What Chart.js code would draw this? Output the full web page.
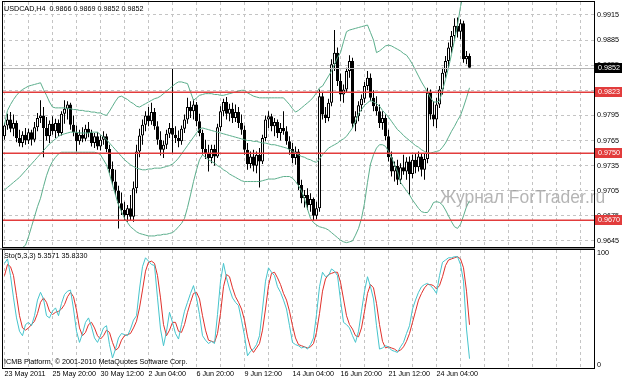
<!DOCTYPE html>
<html>
<head>
<meta charset="utf-8">
<script src="https://cdn.jsdelivr.net/npm/chart.js@4.4.0/dist/chart.umd.min.js"></script>
<style>
body { margin: 0; background: #fff; }
#wrap { position: relative; width: 623px; height: 382px; overflow: hidden; font-family: "Liberation Sans", Arial, sans-serif; }
canvas { position: absolute; left: 0; }
.t { position: absolute; font-size: 7.2px; line-height: 1; color: #000; white-space: pre; }
</style>
</head>
<body>
<div id="wrap">
  <canvas id="main" width="623" height="248" style="top:0"></canvas>
  <canvas id="sub" width="623" height="134" style="top:248px"></canvas>
  <div class="t" id="head" style="left:4px;top:5px"></div>
  <div class="t" id="stoHead" style="left:4px;top:252px"></div>
  <div class="t" style="left:4px;top:358px">ICMB Platform, © 2001-2010 MetaQuotes Software Corp.</div>
</div>
<script>
// USDCAD H4, one value per bar (bar 0 = 23 May 2011)
const opens = [
  0.9770,0.9783,0.9790,0.9779,0.9786,0.9768,0.9762,0.9772,0.9765,0.9775,
  0.9766,0.9781,0.9792,0.9795,0.9780,0.9770,0.9785,0.9776,0.9786,0.9774,
  0.9797,0.9803,0.9808,0.9784,0.9775,0.9764,0.9772,0.9767,0.9779,0.9774,
  0.9762,0.9770,0.9758,0.9766,0.9770,0.9755,0.9731,0.9716,0.9705,0.9690,
  0.9682,0.9676,0.9684,0.9674,0.9708,0.9752,0.9771,0.9784,0.9795,0.9788,
  0.9799,0.9782,0.9766,0.9754,0.9760,0.9773,0.9780,0.9772,0.9768,0.9764,
  0.9779,0.9790,0.9805,0.9800,0.9808,0.9788,0.9774,0.9755,0.9750,0.9744,
  0.9755,0.9746,0.9781,0.9800,0.9811,0.9797,0.9803,0.9792,0.9799,0.9786,
  0.9778,0.9754,0.9737,0.9746,0.9735,0.9748,0.9740,0.9768,0.9790,0.9794,
  0.9782,0.9787,0.9774,0.9780,0.9776,0.9764,0.9755,0.9744,0.9752,0.9712,
  0.9696,0.9700,0.9688,0.9695,0.9675,0.9684,0.9818,0.9796,0.9792,0.9810,
  0.9856,0.9870,0.9836,0.9820,0.9826,0.9848,0.9860,0.9785,0.9794,0.9807,
  0.9815,0.9830,0.9840,0.9816,0.9806,0.9800,0.9786,0.9792,0.9770,0.9745,
  0.9728,0.9735,0.9718,0.9733,0.9728,0.9740,0.9725,0.9742,0.9733,0.9746,
  0.9730,0.9743,0.9822,0.9796,0.9790,0.9808,0.9826,0.9846,0.9860,0.9876,
  0.9890,0.9902,0.9895,0.9905,0.9862,0.9866
];
const highs = [
  0.9786,0.9797,0.9799,0.9796,0.9789,0.9778,0.9776,0.9780,0.9779,0.9778,
  0.9787,0.9798,0.9813,0.9805,0.9793,0.9789,0.9794,0.9791,0.9790,0.9800,
  0.9813,0.9812,0.9810,0.9795,0.9783,0.9778,0.9781,0.9784,0.9787,0.9778,
  0.9774,0.9775,0.9771,0.9776,0.9773,0.9760,0.9740,0.9730,0.9711,0.9703,
  0.9692,0.9688,0.9700,0.9716,0.9760,0.9779,0.9790,0.9800,0.9805,0.9810,
  0.9804,0.9788,0.9776,0.9765,0.9778,0.9786,0.9851,0.9782,0.9777,0.9783,
  0.9796,0.9816,0.9812,0.9814,0.9811,0.9797,0.9778,0.9766,0.9760,0.9760,
  0.9760,0.9785,0.9806,0.9815,0.9817,0.9809,0.9810,0.9808,0.9805,0.9796,
  0.9783,0.9762,0.9752,0.9754,0.9752,0.9756,0.9772,0.9795,0.9800,0.9797,
  0.9792,0.9790,0.9786,0.9800,0.9782,0.9770,0.9762,0.9758,0.9755,0.9718,
  0.9706,0.9708,0.9702,0.9697,0.9692,0.9826,0.9822,0.9805,0.9815,0.9862,
  0.9897,0.9876,0.9845,0.9832,0.9852,0.9867,0.9864,0.9800,0.9812,0.9820,
  0.9835,0.9848,0.9845,0.9825,0.9818,0.9808,0.9800,0.9796,0.9778,0.9752,
  0.9740,0.9742,0.9738,0.9748,0.9745,0.9746,0.9748,0.9750,0.9752,0.9750,
  0.9750,0.9828,0.9826,0.9812,0.9816,0.9830,0.9852,0.9866,0.9882,0.9896,
  0.9911,0.9912,0.9910,0.9908,0.9872,0.9869
];
const lows = [
  0.9766,0.9778,0.9775,0.9770,0.9763,0.9758,0.9757,0.9760,0.9761,0.9759,
  0.9763,0.9776,0.9786,0.9745,0.9765,0.9762,0.9772,0.9768,0.9770,0.9771,
  0.9785,0.9790,0.9778,0.9770,0.9752,0.9760,0.9763,0.9764,0.9769,0.9758,
  0.9756,0.9754,0.9753,0.9760,0.9751,0.9726,0.9712,0.9700,0.9660,0.9676,
  0.9670,0.9668,0.9669,0.9668,0.9702,0.9745,0.9760,0.9776,0.9782,0.9784,
  0.9778,0.9760,0.9747,0.9744,0.9755,0.9768,0.9750,0.9762,0.9757,0.9760,
  0.9774,0.9785,0.9792,0.9790,0.9782,0.9770,0.9748,0.9743,0.9728,0.9738,
  0.9735,0.9744,0.9776,0.9794,0.9790,0.9788,0.9786,0.9787,0.9780,0.9772,
  0.9748,0.9730,0.9732,0.9728,0.9726,0.9709,0.9737,0.9764,0.9780,0.9776,
  0.9770,0.9768,0.9765,0.9772,0.9760,0.9748,0.9738,0.9736,0.9706,0.9690,
  0.9685,0.9682,0.9680,0.9670,0.9671,0.9680,0.9790,0.9786,0.9788,0.9806,
  0.9848,0.9830,0.9812,0.9810,0.9822,0.9840,0.9780,0.9776,0.9788,0.9800,
  0.9810,0.9825,0.9812,0.9800,0.9795,0.9780,0.9778,0.9765,0.9740,0.9722,
  0.9716,0.9712,0.9713,0.9724,0.9718,0.9700,0.9720,0.9726,0.9728,0.9722,
  0.9718,0.9738,0.9790,0.9782,0.9780,0.9804,0.9820,0.9840,0.9852,0.9870,
  0.9884,0.9888,0.9886,0.9858,0.9856,0.9852
];
const closes = [
  0.9783,0.9790,0.9779,0.9786,0.9768,0.9762,0.9772,0.9765,0.9775,0.9766,
  0.9781,0.9792,0.9795,0.9780,0.9770,0.9785,0.9776,0.9786,0.9774,0.9797,
  0.9803,0.9808,0.9784,0.9775,0.9764,0.9772,0.9767,0.9779,0.9774,0.9762,
  0.9770,0.9758,0.9766,0.9770,0.9755,0.9731,0.9716,0.9705,0.9690,0.9682,
  0.9676,0.9684,0.9674,0.9708,0.9752,0.9771,0.9784,0.9795,0.9788,0.9799,
  0.9782,0.9766,0.9754,0.9760,0.9773,0.9780,0.9772,0.9768,0.9764,0.9779,
  0.9790,0.9805,0.9800,0.9808,0.9788,0.9774,0.9755,0.9750,0.9744,0.9755,
  0.9746,0.9781,0.9800,0.9811,0.9797,0.9803,0.9792,0.9799,0.9786,0.9778,
  0.9754,0.9737,0.9746,0.9735,0.9748,0.9740,0.9768,0.9790,0.9794,0.9782,
  0.9787,0.9774,0.9780,0.9776,0.9764,0.9755,0.9744,0.9752,0.9712,0.9696,
  0.9700,0.9688,0.9695,0.9675,0.9684,0.9818,0.9796,0.9792,0.9810,0.9856,
  0.9870,0.9836,0.9820,0.9826,0.9848,0.9860,0.9785,0.9794,0.9807,0.9815,
  0.9830,0.9840,0.9816,0.9806,0.9800,0.9786,0.9792,0.9770,0.9745,0.9728,
  0.9735,0.9718,0.9733,0.9728,0.9740,0.9725,0.9742,0.9733,0.9746,0.9730,
  0.9743,0.9822,0.9796,0.9790,0.9808,0.9826,0.9846,0.9860,0.9876,0.9890,
  0.9902,0.9895,0.9905,0.9862,0.9866,0.9852
];

// Bollinger bands
const bbUpper = [
  0.9784,0.9801,0.9808,0.9814,0.9819,0.9823,0.9826,0.9828,0.9830,0.9831,
  0.9832,0.9833,0.9834,0.9826,0.9819,0.9811,0.9805,0.9804,0.9804,0.9804,
  0.9804,0.9803,0.9803,0.9802,0.9802,0.9801,0.9801,0.9800,0.9800,0.9799,
  0.9799,0.9798,0.9798,0.9796,0.9795,0.9800,0.9806,0.9812,0.9817,0.9818,
  0.9816,0.9814,0.9811,0.9809,0.9806,0.9805,0.9807,0.9809,0.9811,0.9813,
  0.9815,0.9816,0.9818,0.9821,0.9824,0.9827,0.9830,0.9833,0.9835,0.9835,
  0.9834,0.9833,0.9823,0.9813,0.9816,0.9819,0.9820,0.9821,0.9821,0.9821,
  0.9820,0.9820,0.9819,0.9819,0.9820,0.9821,0.9822,0.9823,0.9824,0.9825,
  0.9825,0.9822,0.9820,0.9818,0.9817,0.9816,0.9816,0.9816,0.9816,0.9816,
  0.9816,0.9816,0.9816,0.9816,0.9812,0.9808,0.9803,0.9799,0.9801,0.9804,
  0.9807,0.9810,0.9813,0.9817,0.9822,0.9828,0.9830,0.9836,0.9842,0.9848,
  0.9856,0.9864,0.9870,0.9883,0.9895,0.9897,0.9898,0.9899,0.9900,0.9901,
  0.9902,0.9903,0.9894,0.9885,0.9870,0.9872,0.9875,0.9878,0.9879,0.9878,
  0.9876,0.9874,0.9872,0.9869,0.9867,0.9862,0.9856,0.9849,0.9842,0.9835,
  0.9829,0.9823,0.9816,0.9811,0.9811,0.9812,0.9825,0.9838,0.9852,0.9868,
  0.9885,0.9903,0.9925,0.9940,0.9952,0.9963
];
const bbMiddle = [
  0.9706,0.9709,0.9712,0.9715,0.9718,0.9721,0.9725,0.9729,0.9733,0.9737,
  0.9741,0.9745,0.9749,0.9753,0.9757,0.9761,0.9764,0.9767,0.9770,0.9772,
  0.9773,0.9774,0.9775,0.9775,0.9775,0.9774,0.9774,0.9774,0.9774,0.9775,
  0.9775,0.9775,0.9772,0.9769,0.9766,0.9762,0.9758,0.9754,0.9750,0.9746,
  0.9742,0.9739,0.9736,0.9734,0.9732,0.9731,0.9730,0.9730,0.9731,0.9731,
  0.9732,0.9732,0.9732,0.9733,0.9734,0.9735,0.9737,0.9740,0.9744,0.9749,
  0.9754,0.9759,0.9764,0.9769,0.9774,0.9779,0.9780,0.9779,0.9778,0.9777,
  0.9776,0.9775,0.9774,0.9773,0.9772,0.9771,0.9770,0.9769,0.9768,0.9767,
  0.9766,0.9765,0.9765,0.9764,0.9764,0.9763,0.9762,0.9762,0.9761,0.9760,
  0.9760,0.9759,0.9758,0.9757,0.9756,0.9754,0.9752,0.9750,0.9748,0.9746,
  0.9745,0.9743,0.9742,0.9740,0.9739,0.9743,0.9748,0.9752,0.9756,0.9758,
  0.9760,0.9762,0.9765,0.9767,0.9770,0.9775,0.9780,0.9788,0.9797,0.9802,
  0.9807,0.9810,0.9813,0.9811,0.9809,0.9806,0.9801,0.9797,0.9793,0.9788,
  0.9783,0.9778,0.9775,0.9771,0.9768,0.9765,0.9762,0.9759,0.9757,0.9754,
  0.9752,0.9750,0.9750,0.9751,0.9752,0.9753,0.9757,0.9762,0.9769,0.9776,
  0.9782,0.9789,0.9795,0.9805,0.9816,0.9828
];
const bbLower = [
  0.9620,0.9622,0.9625,0.9628,0.9632,0.9635,0.9637,0.9640,0.9650,0.9662,
  0.9674,0.9686,0.9696,0.9710,0.9723,0.9733,0.9740,0.9745,0.9749,0.9751,
  0.9751,0.9751,0.9751,0.9751,0.9751,0.9751,0.9751,0.9751,0.9751,0.9751,
  0.9751,0.9750,0.9748,0.9742,0.9736,0.9725,0.9712,0.9700,0.9688,0.9680,
  0.9672,0.9667,0.9662,0.9659,0.9656,0.9654,0.9653,0.9652,0.9651,0.9651,
  0.9651,0.9652,0.9652,0.9653,0.9653,0.9654,0.9655,0.9658,0.9662,0.9666,
  0.9672,0.9685,0.9700,0.9716,0.9730,0.9742,0.9748,0.9745,0.9742,0.9740,
  0.9738,0.9735,0.9733,0.9730,0.9728,0.9725,0.9723,0.9721,0.9719,0.9717,
  0.9716,0.9716,0.9716,0.9716,0.9716,0.9716,0.9717,0.9718,0.9719,0.9719,
  0.9719,0.9720,0.9721,0.9722,0.9722,0.9722,0.9720,0.9716,0.9711,0.9705,
  0.9695,0.9683,0.9672,0.9667,0.9664,0.9662,0.9661,0.9660,0.9658,0.9655,
  0.9652,0.9649,0.9646,0.9644,0.9643,0.9644,0.9645,0.9652,0.9660,0.9672,
  0.9690,0.9715,0.9737,0.9748,0.9756,0.9760,0.9760,0.9758,0.9752,0.9745,
  0.9736,0.9728,0.9715,0.9710,0.9705,0.9700,0.9694,0.9689,0.9684,0.9680,
  0.9679,0.9679,0.9684,0.9691,0.9692,0.9691,0.9688,0.9682,0.9675,0.9668,
  0.9662,0.9660,0.9665,0.9675,0.9686,0.9693
];

// Stochastic (5,3,3): main and signal
const stochK = [
  91,95,80,60,42,30,26,36,38,35,
  44,58,65,59,44,42,48,51,44,55,
  63,66,67,50,30,20,28,38,42,34,
  24,20,26,33,35,18,6,14,24,28,
  27,26,32,40,44,68,88,96,93,90,
  89,60,32,17,30,47,38,28,23,36,
  48,56,64,71,60,45,26,22,19,21,
  19,45,75,91,78,68,60,56,53,40,
  26,8,12,14,18,26,50,75,87,83,
  80,70,65,58,50,35,20,18,17,15,
  16,14,18,24,45,70,83,79,80,86,
  84,80,58,38,36,33,26,20,30,48,
  66,79,70,59,35,14,15,17,16,13,
  12,11,16,20,28,35,50,58,65,70,
  72,73,71,68,64,80,92,94,96,96,
  97,97,90,75,32,5.3571
];
const stochD = [
  80,90,88,80,62,44,33,31,33,36,
  39,46,56,60,56,48,45,47,48,50,
  54,61,65,61,49,33,26,29,36,38,
  33,26,23,26,31,29,20,13,15,22,
  26,27,28,33,39,51,67,84,92,93,
  91,80,60,36,26,31,38,38,30,29,
  36,47,56,64,65,59,44,31,22,21,
  20,28,46,70,81,79,69,61,56,50,
  40,25,15,11,15,19,31,50,71,82,
  83,78,72,64,58,48,35,24,18,17,
  16,15,16,19,29,46,66,77,81,82,
  83,83,74,59,44,36,32,26,25,33,
  48,64,72,69,55,36,21,15,16,15,
  14,12,13,16,21,28,38,48,58,64,
  69,72,72,71,68,71,79,89,94,95,
  96,97,95,87,66,35.8330
];

const slotCount = 197;                      // bar slots across the window
const tickLabels = ['23 May 2011', '25 May 20:00', '30 May 12:00', '2 Jun 04:00', '6 Jun 20:00',
  '9 Jun 12:00', '14 Jun 04:00', '16 Jun 20:00', '21 Jun 12:00', '24 Jun 04:00'];
const priceTicks = [0.9645, 0.9675, 0.9705, 0.9735, 0.9765, 0.9795, 0.9825, 0.9855, 0.9885, 0.9915];
const stochTicks = [0, 100];
const levels = [0.9823, 0.9750, 0.9670];    // red horizontal lines
const priceMin = 0.96378, priceMax = 0.99305;

const FONT = '"Liberation Sans", Arial, sans-serif';
const gridColor = '#c4c4c4';
const bandColor = '#5cae8c';
const levelColor = '#e23c3c';

const slots = Array.from({ length: slotCount }, (_, i) => i);
const last = closes.length - 1;

document.getElementById('head').textContent =
  'USDCAD,H4  ' + [opens[last], highs[last], lows[last], closes[last]].map(v => v.toFixed(4)).join(' ');
document.getElementById('stoHead').textContent =
  'Sto(5,3,3) ' + stochK[last].toFixed(4) + ' ' + stochD[last].toFixed(4);

const xGrid = {
  offset: true,
  ticks: { display: false },
  grid: { color: gridColor, offset: false, drawTicks: false },
  border: { display: false, dash: [3, 3] },
  afterBuildTicks: s => { s.ticks = s.ticks.filter(t => t.value % 8 === 0); }
};

const mainDecor = {
  id: 'mainDecor',
  afterDatasetsDraw(chart) {
    const { ctx, chartArea: a, scales: { y } } = chart;
    ctx.save();
    // bid line
    let py = Math.round(y.getPixelForValue(closes[last])) + 0.5;
    ctx.strokeStyle = '#b4b4b4';
    ctx.lineWidth = 1;
    ctx.beginPath(); ctx.moveTo(a.left, py); ctx.lineTo(a.right, py); ctx.stroke();
    ctx.strokeStyle = levelColor;
    ctx.lineWidth = 1.5;
    levels.forEach(v => {
      py = Math.round(y.getPixelForValue(v)) + 0.25;
      ctx.beginPath(); ctx.moveTo(a.left, py); ctx.lineTo(a.right, py); ctx.stroke();
    });
    ctx.restore();
  },
  afterDraw(chart) {
    const { ctx, chartArea: a, scales: { y } } = chart;
    ctx.save();
    ctx.font = '17.5px ' + FONT;
    ctx.fillStyle = 'rgba(150,150,150,0.7)';
    ctx.fillText('Журнал ForTrader.ru', 440, 203);

    ctx.strokeStyle = '#000';
    ctx.lineWidth = 1;
    ctx.strokeRect(a.left - 0.5, a.top - 0.5, a.right - a.left + 1, a.bottom - a.top + 1);

    const boxes = [{ v: closes[last], bg: '#000' }].concat(levels.map(v => ({ v, bg: levelColor })));
    ctx.font = '7.2px ' + FONT;
    ctx.textBaseline = 'middle';
    boxes.forEach(b => {
      const py = Math.round(y.getPixelForValue(b.v));
      ctx.fillStyle = b.bg;
      ctx.fillRect(a.right + 1, py - 5, 27, 10);
      ctx.fillStyle = '#fff';
      ctx.fillText(b.v.toFixed(4), a.right + 4, py + 0.5);
    });
    ctx.restore();
  }
};

new Chart(document.getElementById('main'), {
  type: 'bar',
  data: {
    labels: slots,
    datasets: [
      { type: 'line', data: bbUpper, borderColor: bandColor, borderWidth: 1, pointRadius: 0, order: 0 },
      { type: 'line', data: bbMiddle, borderColor: bandColor, borderWidth: 1, pointRadius: 0, order: 0 },
      { type: 'line', data: bbLower, borderColor: bandColor, borderWidth: 1, pointRadius: 0, order: 0 },
      {
        data: highs.map((h, i) => [lows[i], h]),
        backgroundColor: '#000', barThickness: 1, grouped: false, inflateAmount: 0, order: 2
      },
      {
        data: opens.map((o, i) => [o, closes[i]]),
        backgroundColor: opens.map((o, i) => closes[i] >= o ? '#fff' : '#000'),
        borderColor: '#000', borderWidth: 1, borderSkipped: false,
        barThickness: 3, grouped: false, inflateAmount: 0, order: 1
      }
    ]
  },
  options: {
    responsive: false,
    animation: false,
    events: [],
    layout: { padding: { left: 3, top: 2, right: 0, bottom: 1 } },
    plugins: { legend: { display: false }, tooltip: { enabled: false } },
    scales: {
      x: Object.assign({}, xGrid, {
        afterFit: s => { s.height = 0; s.paddingLeft = 0; s.paddingRight = 0; }
      }),
      y: {
        position: 'right',
        min: priceMin,
        max: priceMax,
        afterBuildTicks: s => { s.ticks = priceTicks.map(v => ({ value: v })); },
        ticks: { callback: v => v.toFixed(4), color: '#000', font: { family: FONT, size: 7.2 }, padding: 3 },
        grid: { color: gridColor, drawTicks: false },
        border: { display: false, dash: [3, 3] },
        afterFit: s => { s.width = 29; s.paddingTop = 0; s.paddingBottom = 0; }
      }
    }
  },
  plugins: [mainDecor]
});

const subDecor = {
  id: 'subDecor',
  afterDraw(chart) {
    const { ctx, chartArea: a } = chart;
    ctx.save();
    ctx.fillStyle = '#8a8a8a';
    ctx.fillRect(0, 0, a.right + 1, 2);
    ctx.strokeStyle = '#000';
    ctx.lineWidth = 1;
    ctx.strokeRect(a.left - 0.5, a.top - 0.5, a.right - a.left + 1, a.bottom - a.top + 1);
    ctx.restore();
  }
};

new Chart(document.getElementById('sub'), {
  type: 'line',
  data: {
    labels: slots,
    datasets: [
      { data: stochK, borderColor: '#45c4cc', borderWidth: 1, pointRadius: 0 },
      { data: stochD, borderColor: '#e0302a', borderWidth: 1, pointRadius: 0 }
    ]
  },
  options: {
    responsive: false,
    animation: false,
    events: [],
    layout: { padding: { left: 3, top: 2, right: 0, bottom: 0 } },
    plugins: { legend: { display: false }, tooltip: { enabled: false } },
    scales: {
      x: Object.assign({}, xGrid, {
        ticks: {
          display: true, autoSkip: false, maxRotation: 0, align: 'start', padding: 2,
          color: '#000', font: { family: FONT, size: 7.2 },
          callback: v => (v % 16 === 0 ? (tickLabels[v / 16] || '') : '')
        },
        afterFit: s => { s.height = 14; s.paddingLeft = 0; s.paddingRight = 0; }
      }),
      y: {
        position: 'right',
        min: -3,
        max: 103,
        afterBuildTicks: s => { s.ticks = stochTicks.map(v => ({ value: v })); },
        ticks: { color: '#000', font: { family: FONT, size: 7.2 }, padding: 3 },
        grid: { display: false, drawTicks: false },
        border: { display: false },
        afterFit: s => { s.width = 29; s.paddingTop = 0; s.paddingBottom = 0; }
      }
    }
  },
  plugins: [subDecor]
});
</script>
</body>
</html>
